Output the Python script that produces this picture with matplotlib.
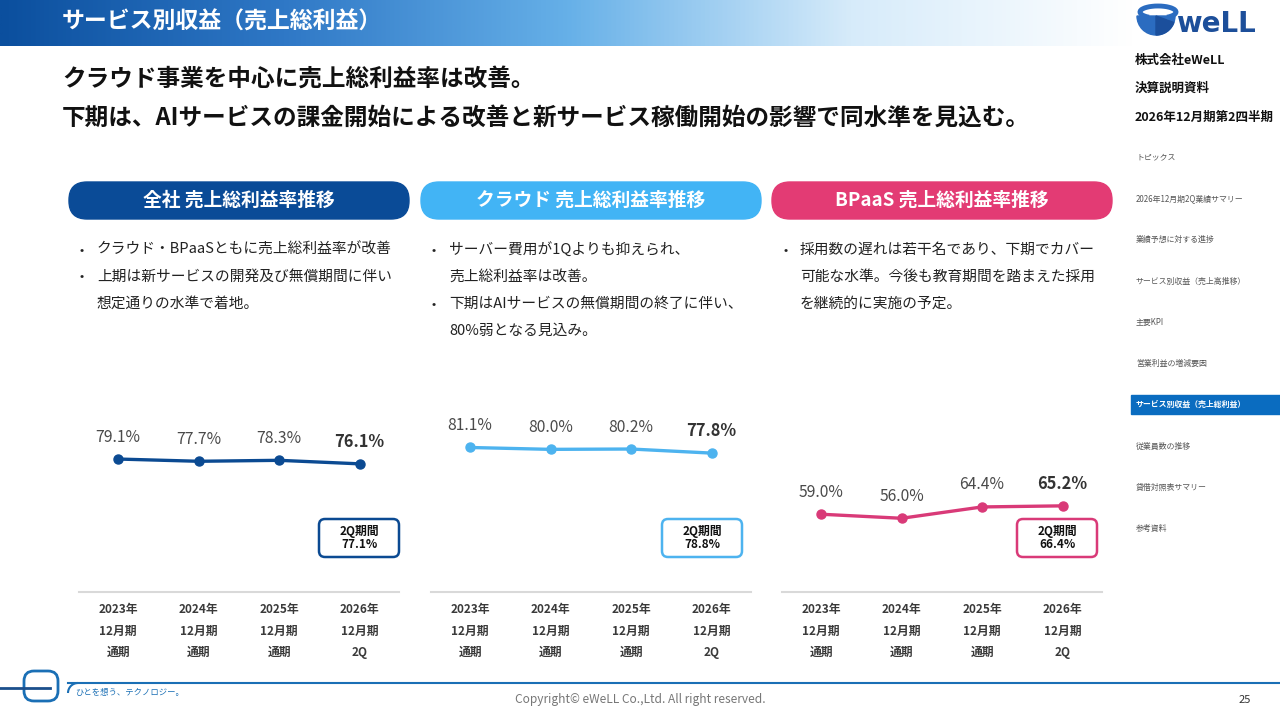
import matplotlib
matplotlib.use("Agg")
import matplotlib.pyplot as plt
import numpy as np
from matplotlib.patches import FancyBboxPatch, Rectangle, Wedge, Arc
from matplotlib.colors import LinearSegmentedColormap

plt.rcParams['font.family'] = ['Noto Sans CJK JP', 'DejaVu Sans']

# ---------------- data ----------------
categories = ["2023年\n12月期\n通期", "2024年\n12月期\n通期", "2025年\n12月期\n通期", "2026年\n12月期\n2Q"]
total_margin = [79.1, 77.7, 78.3, 76.1]
cloud_margin = [81.1, 80.0, 80.2, 77.8]
bpaas_margin = [59.0, 56.0, 64.4, 65.2]
q2_period = [77.1, 78.8, 66.4]

panel_titles = ["全社 売上総利益率推移", "クラウド 売上総利益率推移", "BPaaS 売上総利益率推移"]
panel_bullets = [
    [("•", "クラウド・BPaaSともに売上総利益率が改善"),
     ("•", "上期は新サービスの開発及び無償期間に伴い"),
     ("", "想定通りの水準で着地。")],
    [("•", "サーバー費用が1Qよりも抑えられ、"),
     ("", "売上総利益率は改善。"),
     ("•", "下期はAIサービスの無償期間の終了に伴い、"),
     ("", "80%弱となる見込み。")],
    [("•", "採用数の遅れは若干名であり、下期でカバー"),
     ("", "可能な水準。今後も教育期間を踏まえた採用"),
     ("", "を継続的に実施の予定。")],
]
title = "サービス別収益（売上総利益）"
headline1 = "クラウド事業を中心に売上総利益率は改善。"
headline2 = "下期は、AIサービスの課金開始による改善と新サービス稼働開始の影響で同水準を見込む。"
side_info = ["株式会社eWeLL", "決算説明資料", "2026年12月期第2四半期"]
menu_items = ["トピックス", "2026年12月期2Q業績サマリー", "業績予想に対する進捗", "サービス別収益（売上高推移）",
              "主要KPI", "営業利益の増減要因", "サービス別収益（売上総利益）", "従業員数の推移",
              "貸借対照表サマリー", "参考資料"]
active_menu = 6

# ---------------- styles ----------------
line_colors = ["#0b4a92", "#4db3ef", "#d93a78"]
pill_colors = ["#0a4b97", "#42b4f5", "#e33b74"]
panel_left_px = [79, 431, 782]
box_left_px = [319, 662, 1017]
ylims = [(-4, 116), (-3.8, 109), (1.4, 143.6)]

W, H = 1280, 720
fig = plt.figure(figsize=(12.8, 7.2), dpi=100)
bg = fig.add_axes([0, 0, 1, 1])
bg.set_xlim(0, W)
bg.set_ylim(H, 0)
bg.axis("off")

# title bar gradient
cmap = LinearSegmentedColormap.from_list("hdr", ["#0b4f9e", "#2f78c6", "#66b0e8", "#d6ebfa", "#ffffff"])
grad = np.linspace(0, 1, 512).reshape(1, -1)
bg.imshow(grad, extent=[0, 1135, 46, 0], cmap=cmap, aspect="auto", zorder=0)
bg.text(62, 22, title, color="white", fontsize=16.5, fontweight="bold", va="center", ha="left")

# headline
bg.text(62, 79, headline1, color="#111111", fontsize=17, fontweight="bold", va="center")
bg.text(62, 118, headline2, color="#111111", fontsize=17, fontweight="bold", va="center")

# logo
bg.add_patch(Wedge((1156, 16), 19, 0, 180, color="#2b6cc0", zorder=2))
bg.add_patch(Wedge((1156, 16), 19, 20, 90, color="#1b4f9c", zorder=3))
bg.add_patch(Arc((1158, 12), 36, 12, theta1=150, theta2=390, color="#2b6cc0", lw=3.5, zorder=3))
bg.text(1176, 24, "weLL", color="#1d4f9a", fontsize=20, fontweight="bold", ha="left", va="center",
        family=["DejaVu Sans"])

# side info
for i, s in enumerate(side_info):
    bg.text(1135, 60 + i * 28.5, s, color="#111111", fontsize=9, fontweight="bold", va="center")
for i, s in enumerate(menu_items):
    y = 157 + i * 41.3
    if i == active_menu:
        bg.add_patch(Rectangle((1131, y - 10), 149, 19, color="#0a6cc0", zorder=1))
        bg.text(1136, y, s, color="white", fontsize=5.7, fontweight="bold", va="center", zorder=2)
    else:
        bg.text(1136, y, s, color="#555555", fontsize=5.7, va="center")

# panel headers and bullets
for p in range(3):
    x0 = panel_left_px[p] - 10
    bg.add_patch(FancyBboxPatch((x0, 182), 340, 37, boxstyle="round,pad=0,rounding_size=18",
                                color=pill_colors[p], zorder=2))
    bg.text(x0 + 170, 200.5, panel_titles[p], color="white", fontsize=13.5, fontweight="bold",
            ha="center", va="center", zorder=3)
    for j, (b, t) in enumerate(panel_bullets[p]):
        y = 250 + j * 27
        if b:
            bg.text(x0 + 11, y, b, color="#222222", fontsize=9, va="center")
        bg.text(x0 + 28, y, t, color="#222222", fontsize=10.6, va="center")

# charts
series = [total_margin, cloud_margin, bpaas_margin]
x = np.arange(len(categories))
for p in range(3):
    ax = fig.add_axes([panel_left_px[p] / W, 1 - 592 / H, 320 / W, 192 / H])
    ax.patch.set_alpha(0)
    ax.set_xlim(-0.485, 3.49)
    ax.set_ylim(*ylims[p])
    vals = series[p]
    ax.plot(x, vals, color=line_colors[p], lw=2.4, marker="o", ms=6.5, solid_capstyle="round")
    for i, v in enumerate(vals):
        last = i == len(vals) - 1
        ax.annotate(f"{v:.1f}%", (x[i], v), xytext=(0, 22), textcoords="offset pixels",
                    ha="center", va="center", fontsize=11.8 if last else 11.3,
                    fontweight="bold" if last else "normal",
                    color="#333333" if last else "#4a4a4a")
    for s in ["top", "left", "right"]:
        ax.spines[s].set_visible(False)
    ax.spines["bottom"].set_color("#d9d9d9")
    ax.spines["bottom"].set_linewidth(1.5)
    ax.set_yticks([])
    ax.set_xticks(x)
    ax.set_xticklabels(categories, fontsize=8.5, fontweight="bold", color="#3a3a3a", linespacing=1.85)
    ax.tick_params(axis="x", length=0, pad=8)

    # 2Q period box
    bx = box_left_px[p]
    bg.add_patch(FancyBboxPatch((bx, 519), 80, 38, boxstyle="round,pad=0,rounding_size=6",
                                fill=False, ec=line_colors[p], lw=1.8, zorder=4))
    bg.text(bx + 40, 531, "2Q期間", fontsize=8.5, fontweight="bold", color="#111111",
            ha="center", va="center", zorder=5)
    bg.text(bx + 40, 545, f"{q2_period[p]:.1f}%", fontsize=8.5, fontweight="bold", color="#111111",
            ha="center", va="center", zorder=5)

# footer
fc = "#1a6fb5"
bg.plot([0, 50], [688, 688], color="#1b4f8c", lw=2, zorder=3)
bg.add_patch(FancyBboxPatch((24, 671), 34, 30, boxstyle="round,pad=0,rounding_size=10",
                            fill=False, ec=fc, lw=2))
bg.plot([68, 1280], [683, 683], color=fc, lw=1.5)
bg.add_patch(Arc((78, 693), 20, 20, theta1=180, theta2=270, color=fc, lw=1.5))
bg.text(75, 693, "ひとを想う、テクノロジー。", fontsize=6, color=fc, va="center")
bg.text(640, 700, "Copyright© eWeLL Co.,Ltd. All right reserved.", fontsize=8.6, color="#777777",
        ha="center", va="center")
bg.text(1245, 700, "25", fontsize=8, color="#333333", ha="center", va="center")

fig.savefig("out.png", dpi=100)
